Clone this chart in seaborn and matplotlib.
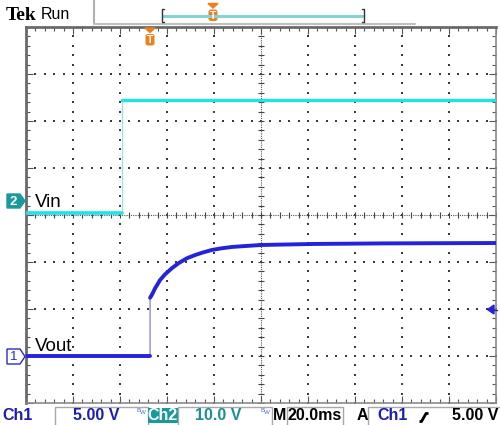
import numpy as np
import pandas as pd
import matplotlib
matplotlib.use("Agg")
import matplotlib.pyplot as plt
import seaborn as sns
from matplotlib.patches import Polygon, Rectangle, FancyBboxPatch

# ---------------- data ----------------
vin_time_ms = [-52.8, -12.0, -12.0, 147.2]
vin_volts = [0.0, 0.0, 24.0, 24.0]

vout_time_ms = [-52.8, 0.0, 0.0, 0.72, 2.13, 4.26, 6.38, 9.23, 12.04, 15.6, 19.15, 22.7, 26.3,
                30.5, 34.8, 40.4, 47.5, 53.2, 70.0, 100.0, 147.2]
vout_volts = [0.0, 0.0, 6.2, 6.49, 7.2, 8.09, 8.69, 9.33, 9.86, 10.39, 10.74, 11.03, 11.28,
              11.46, 11.6, 11.7, 11.81, 11.84, 11.92, 11.98, 12.02]

ch1_volts_per_div = 5.0
ch2_volts_per_div = 10.0
time_ms_per_div = 20.0
trigger_level_v = 5.0
status_texts = ["Ch1", "5.00 V", "Ch2", "10.0 V", "M", "20.0ms", "A", "Ch1", "5.00 V"]
trace_labels = ["Vin", "Vout"]

# ---------------- figure ----------------
sns.set_style("white")
plt.rcParams["font.family"] = ["Liberation Sans", "DejaVu Sans"]

W, H = 500, 425
fig = plt.figure(figsize=(W / 100, H / 100), dpi=100)
fig.patch.set_facecolor("white")

L, R, T, B = 26, 496, 27, 403
ax = fig.add_axes([L / W, 1 - B / H, (R - L) / W, (B - T) / H])
x0 = -52.8
ax.set_xlim(x0, x0 + 10 * time_ms_per_div)
ax.set_ylim(-1 * ch1_volts_per_div, 7 * ch1_volts_per_div)

ax2 = ax.twinx()
ax2.set_ylim(-4.04 * ch2_volts_per_div, 3.96 * ch2_volts_per_div)
ax2.set_axis_off()

# grid dots
xmaj = x0 + np.arange(0, 11) * time_ms_per_div
ymaj = np.arange(-1, 8) * ch1_volts_per_div
xmin = x0 + np.arange(0, 51) * time_ms_per_div / 5
ymin = -ch1_volts_per_div + np.arange(0, 41) * ch1_volts_per_div / 5
xc = x0 + 5 * time_ms_per_div
yc = 3 * ch1_volts_per_div
gx, gy = [], []
for xv in xmaj[1:-1]:
    if abs(xv - xc) < 1e-6:
        continue
    gx += [xv] * len(ymin)
    gy += list(ymin)
for yv in ymaj[1:-1]:
    if abs(yv - yc) < 1e-6:
        continue
    gx += list(xmin)
    gy += [yv] * len(xmin)
ax.scatter(gx, gy, s=1.2, marker="s", color="#3a3a3a", linewidths=0, zorder=1)

# centre cross lines with ticks
ax.axvline(xc, color="#555555", lw=0.8, ls=(0, (1, 1)), zorder=1)
ax.axhline(yc, color="#555555", lw=0.8, ls=(0, (1, 1)), zorder=1)
ax.plot([xc] * len(ymin), ymin, ls="none", marker="_", ms=4, mew=0.8, color="#444444", zorder=1)
ax.plot(xmin, [yc] * len(xmin), ls="none", marker="|", ms=4, mew=0.8, color="#444444", zorder=1)

# traces
vin = pd.DataFrame({"t": vin_time_ms, "v": vin_volts})
vout = pd.DataFrame({"t": vout_time_ms, "v": vout_volts})
cyan = "#1fe2ea"
blue = "#2323dc"
sns.lineplot(data=vin, x="t", y="v", ax=ax2, sort=False, estimator=None, color="#8fe9ee", lw=0.9, zorder=3)
sns.lineplot(data=vin.iloc[0:2], x="t", y="v", ax=ax2, sort=False, estimator=None, color=cyan, lw=2.6, zorder=3)
sns.lineplot(data=vin.iloc[2:], x="t", y="v", ax=ax2, sort=False, estimator=None, color=cyan, lw=2.4, zorder=3)
sns.lineplot(data=vout, x="t", y="v", ax=ax, sort=False, estimator=None, color="#7f7fe8", lw=0.9, zorder=3)
sns.lineplot(data=vout.iloc[0:2], x="t", y="v", ax=ax, sort=False, estimator=None, color=blue, lw=2.8, zorder=3)
sns.lineplot(data=vout.iloc[2:], x="t", y="v", ax=ax, sort=False, estimator=None, color=blue, lw=2.8, zorder=3)
ax2.set_xlim(ax.get_xlim())

# frame and ticks
ax.set_xticks(xmaj)
ax.set_yticks(ymaj)
ax.set_xticks(xmin, minor=True)
ax.set_yticks(ymin, minor=True)
ax.tick_params(which="both", direction="in", top=True, right=True, bottom=True, left=True,
               labelbottom=False, labelleft=False, color="#555555", width=0.8)
ax.tick_params(which="major", length=5)
ax.tick_params(which="minor", length=3)
ax.set_xlabel("")
ax.set_ylabel("")
for s in ["left", "top"]:
    ax.spines[s].set_color("#6a6a6a")
    ax.spines[s].set_linewidth(2.0)
for s in ["right", "bottom"]:
    ax.spines[s].set_color("#8a8a8a")
    ax.spines[s].set_linewidth(1.2)

# ---------------- overlay in pixel coordinates ----------------
ov = fig.add_axes([0, 0, 1, 1], zorder=10)
ov.set_xlim(0, W)
ov.set_ylim(H, 0)
ov.axis("off")
ov.patch.set_alpha(0)

orange = "#f07d1e"
teal = "#1b9a9e"

# header
ov.text(6, 15, "Tek", fontsize=14, fontweight="bold", family=["Liberation Serif", "DejaVu Serif"],
        va="center", ha="left", color="black")
ov.text(41, 14.5, "Run", fontsize=11.5, va="center", ha="left", color="black")
ov.plot([94, 94], [0, 23], color="#b0b0b0", lw=1.5)
ov.plot([94, 415], [23.5, 23.5], color="#c0c0c0", lw=1.5)
ov.plot([163, 363], [16, 16], color="#84d2d2", lw=2.2)
ov.plot([164, 162, 162, 164], [9, 9, 22, 22], color="#333333", lw=1)
ov.plot([362, 364, 364, 362], [9, 9, 22, 22], color="#333333", lw=1)

def trig_marker(cx, ytop):
    ov.add_patch(Polygon([[cx - 5, ytop], [cx + 5, ytop], [cx, ytop + 4.5]], closed=True, color=orange))
    ov.add_patch(FancyBboxPatch((cx - 4.5, ytop + 6), 9, 11.5, boxstyle="round,pad=0,rounding_size=2.5",
                                color=orange, lw=0))
    ov.text(cx, ytop + 12, "T", color="white", fontsize=7.5, fontweight="bold", ha="center", va="center")

trig_marker(213, 3.5)
trig_marker(150, 28)

# channel markers
ov.add_patch(Polygon([[7, 194], [20, 194], [25, 201], [20, 208], [7, 208]], closed=True, color=teal))
ov.text(13.5, 201.5, "2", color="white", fontsize=9.5, fontweight="bold", ha="center", va="center")
ov.add_patch(Polygon([[7, 349], [20, 349], [25, 356.5], [20, 364], [7, 364]], closed=True,
                     facecolor="white", edgecolor="#2a2ac8", lw=1))
ov.text(13.5, 357, "1", color="#2a2ac8", fontsize=9.5, ha="center", va="center")

# trace labels
ov.text(35, 207, trace_labels[0], fontsize=13.5, ha="left", va="baseline", color="black")
ov.text(35, 351, trace_labels[1], fontsize=13.5, ha="left", va="baseline", color="black")

# trigger level arrow (right)
ov.add_patch(Polygon([[487.5, 309.5], [494, 305], [494, 314]], closed=True, color=blue))
ov.plot([494, 497], [309.5, 309.5], color=blue, lw=1)

# status bar
sblue = "#1c1cb4"
fs = 11.5
ov.text(2, 416, status_texts[0], color=sblue, fontsize=fs, fontweight="bold", ha="left", va="center")
ov.add_patch(Rectangle((55, 407), 93, 19, facecolor="none", edgecolor="#a8a8a8", lw=1))
ov.text(96, 416, status_texts[1], color=sblue, fontsize=fs, fontweight="bold", ha="center", va="center")
ov.text(139, 410, "B", color="#5070c8", fontsize=4.5, ha="center", va="center")
ov.text(143, 413, "W", color="#5070c8", fontsize=4.5, ha="center", va="center")
ov.add_patch(Rectangle((148, 408), 30, 15, facecolor=teal, edgecolor="none"))
ov.text(163, 415.5, status_texts[2], color="white", fontsize=fs, fontweight="bold", ha="center", va="center")
ov.add_patch(Rectangle((178, 407), 94, 19, facecolor="none", edgecolor="#a8a8a8", lw=1))
ov.text(218, 416, status_texts[3], color="#1a9090", fontsize=fs, fontweight="bold", ha="center", va="center")
ov.text(263, 410, "B", color="#5070c8", fontsize=4.5, ha="center", va="center")
ov.text(267, 413, "W", color="#5070c8", fontsize=4.5, ha="center", va="center")
ov.text(280, 416, status_texts[4], color="black", fontsize=fs, fontweight="bold", ha="center", va="center")
ov.add_patch(Rectangle((287, 407), 56, 19, facecolor="none", edgecolor="#a8a8a8", lw=1))
ov.text(315, 416, status_texts[5], color="black", fontsize=fs, fontweight="bold", ha="center", va="center")
ov.text(362, 416, status_texts[6], color="black", fontsize=fs, fontweight="bold", ha="center", va="center")
ov.add_patch(Rectangle((368, 407), 140, 19, facecolor="none", edgecolor="#a8a8a8", lw=1))
ov.text(393, 416, status_texts[7], color=sblue, fontsize=fs, fontweight="bold", ha="center", va="center")
ov.plot([419.5, 421.5, 426, 428.5], [421.5, 421.5, 413.5, 413.5], color="black", lw=2, solid_capstyle="butt")
ov.text(475, 416, status_texts[8], color="black", fontsize=fs, fontweight="bold", ha="center", va="center")

fig.savefig("out.png", dpi=100, facecolor="white")
